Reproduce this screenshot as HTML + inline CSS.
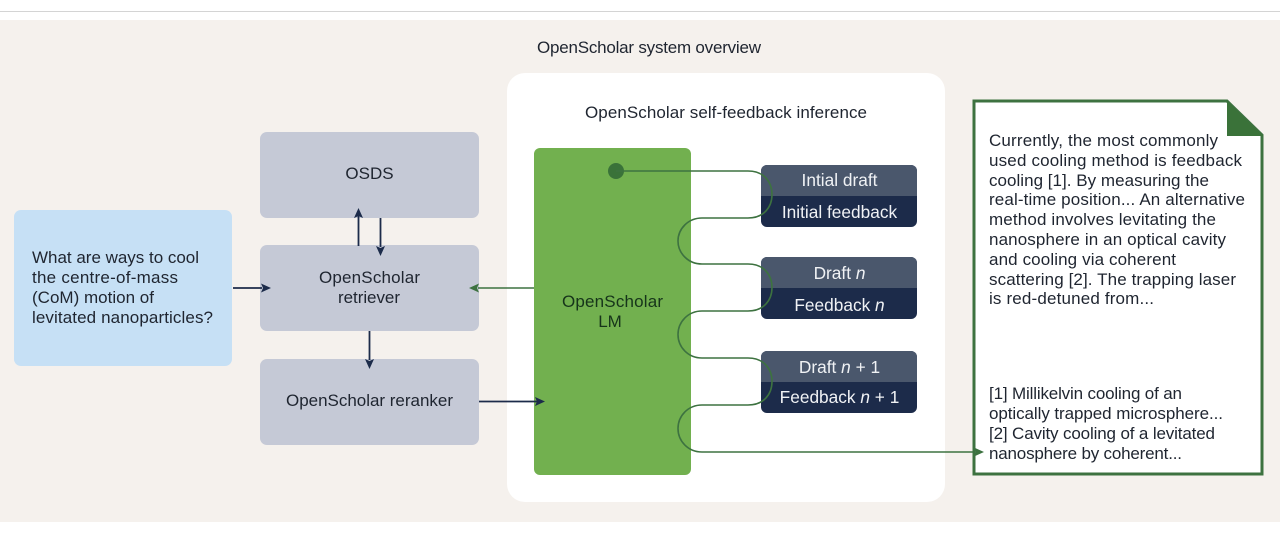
<!DOCTYPE html>
<html lang="en">
<head>
<meta charset="utf-8">
<title>OpenScholar system overview</title>
<style>
html,body{margin:0;padding:0;background:#fff;width:1280px;height:544px;overflow:hidden}
svg{display:block}
text{font-family:"Liberation Sans",sans-serif;font-size:17px;fill:#1f2530}
.c{text-anchor:middle}
.w{fill:#f0f2f5;font-size:17.3px}
.g{fill:none;stroke:#3d7240;stroke-width:1.6}
.n{fill:none;stroke:#1c2b4a;stroke-width:1.8}
</style>
</head>
<body>
<svg width="1280" height="544" viewBox="0 0 1280 544" xmlns="http://www.w3.org/2000/svg">
<rect width="1280" height="544" fill="#fff"/>
<rect x="0" y="11" width="1280" height="1" fill="#d4d4d4"/>
<rect x="0" y="20" width="1280" height="502" fill="#f5f1ed"/>

<text x="537" y="53" textLength="224" lengthAdjust="spacing">OpenScholar system overview</text>

<rect x="507" y="73" width="438" height="429" rx="18" fill="#fff"/>
<text x="585" y="118" textLength="282" lengthAdjust="spacing">OpenScholar self-feedback inference</text>

<!-- left -->
<rect x="14" y="210" width="218" height="156" rx="7" fill="#c6e0f5"/>
<text x="32" y="263" textLength="167" lengthAdjust="spacing">What are ways to cool</text>
<text x="32" y="283" textLength="146" lengthAdjust="spacing">the centre-of-mass</text>
<text x="32" y="303" textLength="122" lengthAdjust="spacing">(CoM) motion of</text>
<text x="32" y="323" textLength="181" lengthAdjust="spacing">levitated nanoparticles?</text>

<rect x="260" y="132" width="219" height="86" rx="7" fill="#c5c9d6"/>
<rect x="260" y="245" width="219" height="86" rx="7" fill="#c5c9d6"/>
<rect x="260" y="359" width="219" height="86" rx="7" fill="#c5c9d6"/>
<text class="c" x="369.500" y="179">OSDS</text>
<text x="319" y="283" textLength="101" lengthAdjust="spacing">OpenScholar</text>
<text x="338" y="303" textLength="62" lengthAdjust="spacing">retriever</text>
<text x="286" y="406" textLength="167" lengthAdjust="spacing">OpenScholar reranker</text>

<!-- LM -->
<rect x="534" y="148" width="157" height="327" rx="6" fill="#72b04f"/>
<text x="562" y="307" textLength="101" lengthAdjust="spacing" style="fill:#16341a">OpenScholar</text>
<text class="c" x="610" y="327" style="fill:#16341a">LM</text>

<!-- navy arrows -->
<path class="n" d="M233 288H262"/><path d="M271 288L261 283.500L263 288L261 292.500Z" fill="#1c2b4a"/>
<path class="n" d="M358.500 246V216"/><path d="M358.500 208L354 218L358.500 216L363 218Z" fill="#1c2b4a"/>
<path class="n" d="M380.500 218V247"/><path d="M380.500 256L376 246L380.500 248L385 246Z" fill="#1c2b4a"/>
<path class="n" d="M369.500 331V360"/><path d="M369.500 369L365 359L369.500 361L374 359Z" fill="#1c2b4a"/>
<path class="n" d="M479 401.500H537"/><path d="M545 401.500L535 397L537 401.500L535 406Z" fill="#1c2b4a"/>

<path class="g" d="M534 288H478"/><path d="M469 288L479 283.500L477 288L479 292.500Z" fill="#3d7240"/>

<!-- dark boxes -->
<g>
<rect x="761" y="165" width="156" height="62" rx="6" fill="#1c2b4a"/>
<path d="M761 196V171a6 6 0 0 1 6-6H911a6 6 0 0 1 6 6V196Z" fill="#4a576c"/>
<text class="c w" x="839.500" y="186">Intial draft</text>
<text class="c w" x="839.500" y="218">Initial feedback</text>

<rect x="761" y="257" width="156" height="62" rx="6" fill="#1c2b4a"/>
<path d="M761 288V263a6 6 0 0 1 6-6H911a6 6 0 0 1 6 6V288Z" fill="#4a576c"/>
<text class="c w" x="839.500" y="279">Draft <tspan font-style="italic">n</tspan></text>
<text class="c w" x="839.500" y="311">Feedback <tspan font-style="italic">n</tspan></text>

<rect x="761" y="351" width="156" height="62" rx="6" fill="#1c2b4a"/>
<path d="M761 382V357a6 6 0 0 1 6-6H911a6 6 0 0 1 6 6V382Z" fill="#4a576c"/>
<text class="c w" x="839.500" y="373">Draft <tspan font-style="italic">n</tspan> + 1</text>
<text class="c w" x="839.500" y="403">Feedback <tspan font-style="italic">n</tspan> + 1</text>
</g>

<!-- document -->
<path d="M974 101H1227L1262 135V474H974Z" fill="#fff" stroke="#3d7240" stroke-width="3"/>
<path d="M1227 101L1263 136H1227Z" fill="#3a7239"/>
<text x="989" y="146" textLength="229" lengthAdjust="spacing">Currently, the most commonly</text>
<text x="989" y="166" textLength="253" lengthAdjust="spacing">used cooling method is feedback</text>
<text x="989" y="186" textLength="220" lengthAdjust="spacing">cooling [1]. By measuring the</text>
<text x="989" y="205" textLength="256" lengthAdjust="spacing">real-time position... An alternative</text>
<text x="989" y="225" textLength="227" lengthAdjust="spacing">method involves levitating the</text>
<text x="989" y="245" textLength="237" lengthAdjust="spacing">nanosphere in an optical cavity</text>
<text x="989" y="265" textLength="187" lengthAdjust="spacing">and cooling via coherent</text>
<text x="989" y="285" textLength="247" lengthAdjust="spacing">scattering [2]. The trapping laser</text>
<text x="989" y="304" textLength="165" lengthAdjust="spacing">is red-detuned from...</text>
<text x="989" y="399" textLength="193" lengthAdjust="spacing">[1] Millikelvin cooling of an</text>
<text x="989" y="419" textLength="234" lengthAdjust="spacing">optically trapped microsphere...</text>
<text x="989" y="439" textLength="226" lengthAdjust="spacing">[2] Cavity cooling of a levitated</text>
<text x="989" y="459" textLength="193" lengthAdjust="spacing">nanosphere by coherent...</text>

<!-- feedback wire -->
<circle cx="616" cy="171" r="8" fill="#3a7239"/>
<path class="g" d="M616 171H748C764 171 772 182 772 194.500C772 207 764 218 748 218H702C688 218 678 229 678 241C678 253 688 264 702 264H748C764 264 772 275 772 287.500C772 300 764 311 748 311H702C688 311 678 322 678 334.500C678 347 688 358 702 358H748C764 358 772 369 772 381.500C772 394 764 405 748 405H702C688 405 678 416 678 428.500C678 441 688 452 702 452H976"/>
<path d="M984 452L974 447.500L976 452L974 456.500Z" fill="#3d7240"/>
</svg>
</body>
</html>
